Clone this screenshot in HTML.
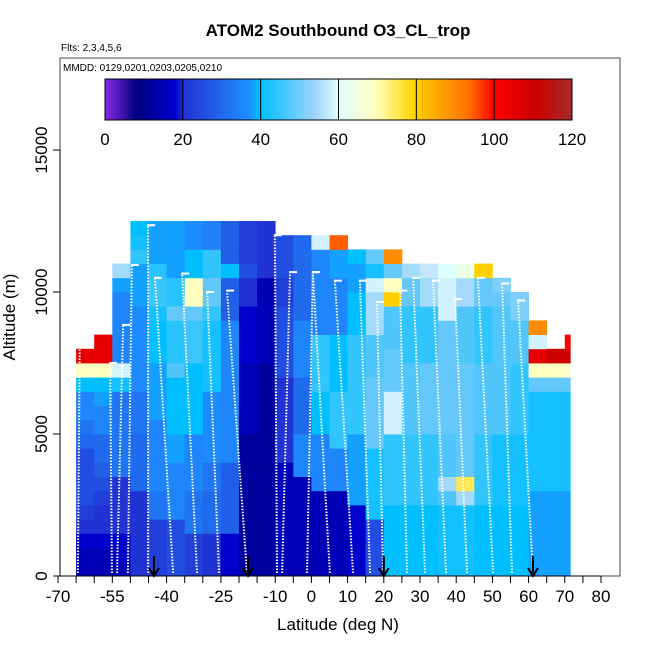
<!DOCTYPE html>
<html><head><meta charset="utf-8"><style>
body{margin:0;background:#fff}
svg{display:block;font-family:"Liberation Sans",Arial,sans-serif}
</style></head><body>
<svg id="chart" width="650" height="650" viewBox="0 0 650 650">
<defs>
<linearGradient id="cbar" x1="0" x2="1" y1="0" y2="0">
<stop offset="0" stop-color="#8a2be2"/><stop offset="0.067" stop-color="#000080"/><stop offset="0.15" stop-color="#0000cd"/><stop offset="0.17" stop-color="#2233d4"/><stop offset="0.31" stop-color="#1e90ff"/><stop offset="0.333" stop-color="#00bfff"/><stop offset="0.45" stop-color="#9fd3fb"/><stop offset="0.5" stop-color="#e0ffff"/><stop offset="0.58" stop-color="#ffffc0"/><stop offset="0.66" stop-color="#ffd700"/><stop offset="0.68" stop-color="#ffc000"/><stop offset="0.78" stop-color="#ff7000"/><stop offset="0.833" stop-color="#ff0000"/><stop offset="0.92" stop-color="#cd0000"/><stop offset="1" stop-color="#a52a2a"/>
</linearGradient>
</defs>
<text x="338" y="36" font-size="17" font-weight="bold" text-anchor="middle">ATOM2 Southbound O3_CL_trop</text>
<text x="61" y="51" font-size="10">Flts: 2,3,4,5,6</text>
<g id="cells"></g>
<g id="profiles"></g>
<rect x="60" y="58" width="560" height="518" fill="none" stroke="#444" stroke-width="1"/>
<text x="63" y="71" font-size="10">MMDD: 0129,0201,0203,0205,0210</text>
<g>
<rect x="105" y="79" width="467" height="41" fill="url(#cbar)" stroke="#000" stroke-width="1"/>
<g id="cbticks"></g>
</g>
<g id="axes"></g>
<text x="338" y="630" font-size="17" text-anchor="middle">Latitude (deg N)</text>
<text transform="translate(15,317) rotate(-90)" font-size="17" text-anchor="middle">Altitude (m)</text>
</svg>
<script>
const latEdges=[-65,-60,-55,-50,-45,-40,-35,-30,-25,-20,-15,-10,-5,0,5,10,15,20,25,30,35,40,45,50,55,60,65,70,71.5];
const altStep=500;
// O3 ppbv per column, bottom (0 m) upward in 500 m layers; -1 = no data
const colValues=[
[15,15,18,20,22,25,25,25,25,30,32,35,35,40,70,105,-1,-1,-1,-1],
[15,15,18,20,20,22,25,28,30,30,35,35,38,40,70,105,105,-1,-1,-1],
[15,18,18,20,20,20,20,32,32,32,32,32,32,42,60,35,35,35,35,35,38,55],
[20,20,20,20,20,20,30,30,30,30,32,32,32,36,36,36,36,36,36,38,38,38,45,42,40],
[22,22,22,22,32,32,35,35,35,35,35,38,38,38,38,40,40,40,42,46,46,44,38,38,38],
[25,25,25,25,35,35,35,35,38,38,40,40,40,40,48,44,44,44,50,44,44,38,38,38,38],
[22,22,22,32,32,32,35,35,35,35,40,40,40,40,40,46,46,46,50,70,70,40,40,36,36],
[20,20,20,30,30,30,32,32,36,36,36,36,36,42,42,42,42,42,45,50,50,45,45,34,34],
[18,18,18,28,28,28,28,28,35,35,35,35,35,35,35,35,35,35,28,28,28,40,28,28,28],
[12,12,12,12,12,12,12,12,12,12,15,15,15,15,15,18,18,18,18,20,20,25,22,22,22],
[12,12,12,12,12,12,12,12,12,12,12,12,12,12,12,15,15,15,15,15,15,20,20,20,20],
[15,15,15,15,15,15,15,15,20,20,20,20,20,20,25,25,25,25,25,22,22,25,25,25],
[15,15,15,15,15,15,15,35,35,35,30,30,30,30,35,35,35,35,30,30,30,30,30,30],
[15,15,15,15,15,15,35,35,35,35,40,40,40,45,45,45,45,35,35,35,35,35,35,60],
[15,15,15,15,15,15,35,35,35,45,45,45,45,40,40,40,40,35,35,35,35,38,38,95],
[18,18,18,18,18,38,38,38,38,38,45,45,45,45,45,45,45,40,40,40,38,38,40],
[25,25,25,25,42,42,42,42,42,50,50,50,50,50,48,48,48,55,55,55,60,42,50],
[40,40,40,40,40,45,45,45,45,45,60,60,60,50,50,50,48,48,48,80,70,50,90],
[40,40,40,40,40,45,45,45,45,45,48,48,48,48,48,45,45,45,45,50,50,55],
[40,40,40,40,40,45,45,45,45,45,50,50,50,50,50,45,45,45,45,55,55,58],
[42,42,42,42,42,48,55,48,48,48,50,50,50,50,50,50,50,50,60,60,60,62],
[42,42,42,42,42,55,75,50,50,50,50,50,50,50,50,48,48,48,48,55,55,65],
[40,40,40,40,40,45,45,45,45,45,48,48,48,48,48,45,45,45,45,50,50,80],
[40,40,40,40,40,42,42,42,42,42,48,48,48,48,48,48,48,48,48,50,52],
[40,40,40,40,40,42,42,42,42,42,45,45,45,45,45,48,48,48,52,52],
[38,38,38,38,38,38,42,42,42,42,42,42,42,50,70,105,60,90],
[38,38,38,38,38,38,42,42,42,42,42,42,42,50,70,110],
[38,38,38,38,38,38,42,42,42,42,42,42,42,50,68,110,100]
];
// profiles: bottom latitude, top latitude, top altitude (m)
const profBotLat=[-64.5,-55.1,-53.7,-50.7,-45.1,-38.2,-31.6,-25.5,-17.8,-9.5,-8.1,-1.2,5.1,11.5,16.2,19.8,26.4,31.4,37.2,43.0,50.2,55.4,61.2];
const profTopLat=[-63.9,-55.6,-52.0,-49.6,-45.1,-43.2,-35.7,-28.8,-23.3,-10.1,-5.9,0.4,0.4,6.5,13.4,18.1,24.5,28.1,33.6,39.7,46.0,52.7,57.1];
const profTopAlt=[10000,7500,8840,10950,12350,10500,10650,10000,10050,12000,10700,10700,10700,10400,10400,9650,10050,10500,10400,9750,10500,10300,9700];
const arrowLats=[-43.5,-17.5,20,61.2];
const xTicks=[-70,-55,-40,-25,-10,0,10,20,30,40,50,60,70,80];
const yTicks=[0,5000,10000,15000];
const cbTicks=[0,20,40,60,80,100,120];

const NS='http://www.w3.org/2000/svg';
const X=lat=>58+(lat+70)*3.62;
const Y=alt=>576-alt*0.0284;
const CB=v=>105+v/120*467;
const stops=[[0,[138,43,226]],[8,[0,0,128]],[18,[0,0,205]],[20,[34,51,212]],[37,[30,144,255]],[40,[0,191,255]],[50,[100,200,250]],[57,[190,225,250]],[62,[224,255,255]],[70,[255,255,192]],[79,[255,215,0]],[82,[255,192,0]],[94,[255,112,0]],[100,[255,0,0]],[110,[205,0,0]],[120,[165,42,42]]];
function col(v){v=Math.max(0,Math.min(120,v));for(let i=1;i<stops.length;i++){if(v<=stops[i][0]){const a=stops[i-1],b=stops[i],t=(v-a[0])/(b[0]-a[0]);return 'rgb('+a[1].map((c,k)=>Math.round(c+(b[1][k]-c)*t)).join(',')+')';}}return 'rgb(165,42,42)';}
function mk(tag,attrs,parent){const e=document.createElementNS(NS,tag);for(const k in attrs)e.setAttribute(k,attrs[k]);parent.appendChild(e);return e;}

const cells=document.getElementById('cells');
colValues.forEach((vals,i)=>{
  vals.forEach((v,j)=>{
    if(v<0)return;
    const x0=X(latEdges[i]),x1=X(latEdges[i+1]),y0=Y((j+1)*altStep),y1=Y(j*altStep);
    const r=mk('rect',{x:x0,y:y0,width:x1-x0+0.4,height:y1-y0+0.4,fill:col(v)},cells);
    
    
  });
});

const prof=document.getElementById('profiles');
profBotLat.forEach((lb,i)=>{
  const l=mk('line',{x1:X(lb),y1:Y(0)-3,x2:X(profTopLat[i]),y2:Y(profTopAlt[i]),stroke:'#fff','stroke-width':2,'stroke-dasharray':'1.5 1.5'},prof);
  
  
  const h=mk('line',{x1:X(profTopLat[i])-1,y1:Y(profTopAlt[i]),x2:X(profTopLat[i])+7,y2:Y(profTopAlt[i]),stroke:'#fff','stroke-width':2},prof);
  
  
});
arrowLats.forEach(a=>{
  const g=mk('g',{},prof);
  
  
  const x=X(a);
  mk('line',{x1:x,y1:556,x2:x,y2:575,stroke:'#000','stroke-width':2},g);
  mk('polyline',{points:(x-5)+',568 '+x+',576 '+(x+5)+',568',fill:'none',stroke:'#000','stroke-width':2},g);
});

const cbt=document.getElementById('cbticks');
cbTicks.forEach(v=>{
  if(v>0&&v<120){const l=mk('line',{x1:CB(v),y1:79,x2:CB(v),y2:120,stroke:'#000','stroke-width':1},cbt);
  }
  const t=mk('text',{x:CB(v),y:145,'font-size':17,'text-anchor':'middle'},cbt);
  
  
  t.textContent=v;
});

const ax=document.getElementById('axes');
mk('line',{x1:X(-70),y1:576,x2:X(80),y2:576,stroke:'#000'},ax);
for(let v=-70;v<=80;v+=5){
  const l=mk('line',{x1:X(v),y1:576,x2:X(v),y2:583,stroke:'#000'},ax);
  
  
}
xTicks.forEach(v=>{
  const t=mk('text',{x:X(v),y:602,'font-size':17,'text-anchor':'middle'},ax);
  
  
  t.textContent=v;
});
mk('line',{x1:60,y1:Y(0),x2:60,y2:Y(15000),stroke:'#000'},ax);
yTicks.forEach(v=>{
  const l=mk('line',{x1:53,y1:Y(v),x2:60,y2:Y(v),stroke:'#000'},ax);
  
  
  const t=mk('text',{transform:'translate(47,'+Y(v)+') rotate(-90)','font-size':17,'text-anchor':'middle'},ax);
  
  
  t.textContent=v;
});
</script>
</body></html>
